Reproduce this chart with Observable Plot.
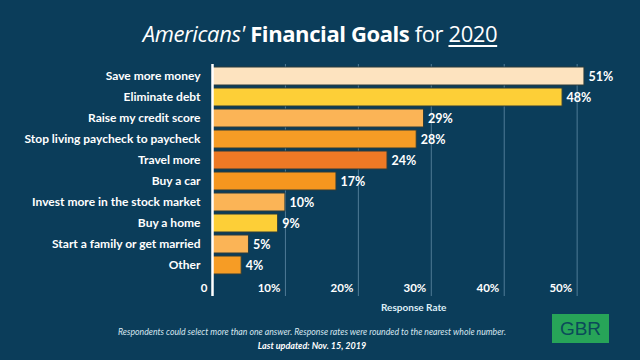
<!DOCTYPE html>
<html>
<head>
<meta charset="utf-8">
<script src="https://cdn.jsdelivr.net/npm/d3@7"></script>
<script src="https://cdn.jsdelivr.net/npm/@observablehq/plot@0.6"></script>
<style>
  html, body { margin: 0; padding: 0; background: #0b3d5a; width: 640px; height: 360px; overflow: hidden; font-family: Lato, "Open Sans", sans-serif; }
  #wrap { position: relative; width: 640px; height: 360px; }
  #title { position: absolute; top: 18px; left: 0; width: 640px; text-align: center; color: #fff; font-size: 22px; font-family: "Open Sans", Lato, sans-serif; letter-spacing: -0.4px; }
  #title .u { text-decoration: underline; text-underline-offset: 3px; text-decoration-thickness: 1.5px; }
  #chart { position: absolute; top: 60px; left: 0; line-height: 0; }
  #axislabel { position: absolute; top: 301px; left: 381px; color: #dfeef7; font-size: 10px; font-weight: bold; }
  #note { position: absolute; top: 326px; left: 0; width: 624px; text-align: center; color: #d7e6f0; font-size: 8.7px; font-style: italic; }
  #updated { position: absolute; top: 340px; left: 0; width: 624px; text-align: center; color: #fff; font-size: 9px; font-style: italic; font-weight: bold; }
  #logo { position: absolute; top: 314px; left: 552px; width: 57px; height: 29px; background: #27a458; color: #0b4a5a; font-family: "Liberation Sans", Arial, sans-serif; font-size: 19px; line-height: 29px; text-align: center; }
</style>
</head>
<body>
<div id="wrap">
  <div id="title"><i>Americans'</i> <b>Financial Goals</b> for <span class="u">2020</span></div>
  <div id="chart"></div>
  <div id="axislabel">Response Rate</div>
  <div id="note">Respondents could select more than one answer. Response rates were rounded to the nearest whole number.</div>
  <div id="updated">Last updated: Nov. 15, 2019</div>
  <div id="logo">GBR</div>
</div>
<script>
const goals = ["Save more money", "Eliminate debt", "Raise my credit score", "Stop living paycheck to paycheck", "Travel more", "Buy a car", "Invest more in the stock market", "Buy a home", "Start a family or get married", "Other"];
const rates = [51, 48, 29, 28, 24, 17, 10, 9, 5, 4];
const colors = ["#fde3bf", "#fdcf37", "#fbb456", "#f69c25", "#ee7925", "#f6961f", "#fbb456", "#fdcf37", "#fbb456", "#f69c25"];
const xTicks = [0, 10, 20, 30, 40, 50];

const data = goals.map((g, i) => ({goal: g, rate: rates[i], color: colors[i]}));

const chart = Plot.plot({
  width: 640,
  height: 255,
  marginLeft: 212,
  marginRight: 5,
  marginTop: 7,
  marginBottom: 41,
  style: {background: "transparent", color: "#fff", fontFamily: "Lato, 'Open Sans', sans-serif"},
  x: {domain: [0, 58]},
  y: {domain: goals, paddingInner: 0.143, paddingOuter: 0},
  marks: [
    Plot.ruleX(xTicks.slice(1), {x: d => d, stroke: "#4f7b96", strokeWidth: 1, insetTop: -3, insetBottom: -22}),
    Plot.barX(data, {x: "rate", y: "goal", fill: "color", stroke: "#2c3d3c", strokeWidth: 1}),
    Plot.text(data, {x: "rate", y: "goal", text: d => d.rate + "%", textAnchor: "start", dx: 4, fill: "#fff", fontSize: 12.5, fontWeight: "bold"}),
    Plot.ruleX([0], {stroke: "#fff", strokeWidth: 2.5, insetTop: -3, insetBottom: -22}),
    Plot.axisY({tickSize: 0, tickPadding: 12, fontSize: 12, fontWeight: "bold", fill: "#fff", label: null}),
    Plot.axisX(xTicks, {tickSize: 0, tickPadding: 9, textAnchor: "end", dx: -5, fontSize: 11.5, fontWeight: "bold", fill: "#fff", label: null, tickFormat: d => d === 0 ? "0" : d + "%"})
  ]
});
document.getElementById("chart").appendChild(chart);
</script>
</body>
</html>
